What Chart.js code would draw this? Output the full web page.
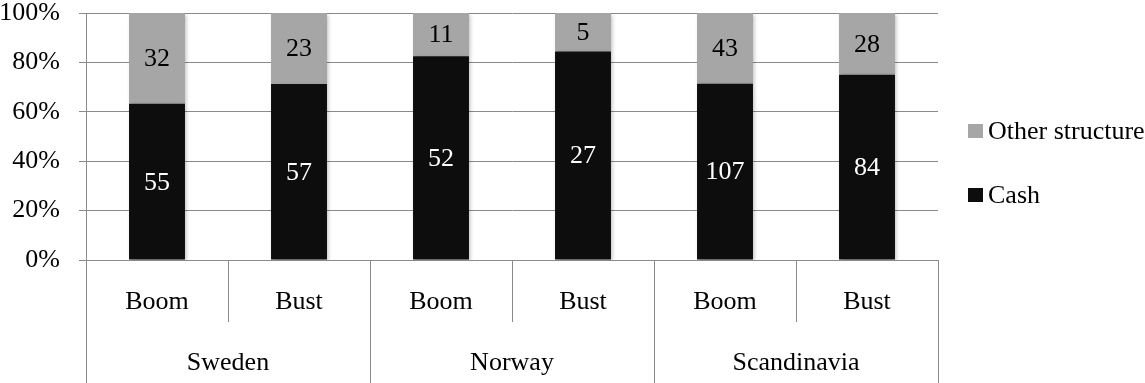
<!DOCTYPE html>
<html>
<head>
<meta charset="utf-8">
<script src="https://cdn.jsdelivr.net/npm/chart.js@4/dist/chart.umd.min.js"></script>
<style>
  html, body { margin: 0; padding: 0; background: #ffffff; }
  #wrap { width: 1145px; height: 383px; }
</style>
</head>
<body>
<div id="wrap"><canvas id="c" width="1145" height="383"></canvas></div>
<script>
// Deal counts per market phase
const phases = ['Boom', 'Bust', 'Boom', 'Bust', 'Boom', 'Bust'];
const regions = ['Sweden', 'Norway', 'Scandinavia'];
const cashCounts = [55, 57, 52, 27, 107, 84];
const otherCounts = [32, 23, 11, 5, 43, 28];
const yTicks = [0, 20, 40, 60, 80, 100];

const FONT = '"Liberation Serif", "Times New Roman", serif';
const FSIZE = 26;
const GRID = '#8a8a8a';
const CASH = '#0d0d0d';
const OTHER = '#a6a6a6';

// each bar shows shares of its column total (100% stacked)
const totals = cashCounts.map((c, i) => c + otherCounts[i]);
const cashShare = cashCounts.map((c, i) => c / totals[i] * 100);
const otherShare = otherCounts.map((o, i) => o / totals[i] * 100);

const barShadow = {
  id: 'barShadow',
  beforeDatasetsDraw(chart) {
    const ctx = chart.ctx;
    ctx.save();
    ctx.shadowColor = 'rgba(0,0,0,0.28)';
    ctx.shadowBlur = 4;
    ctx.shadowOffsetX = 1.5;
    ctx.shadowOffsetY = 1.5;
  },
  afterDatasetsDraw(chart) {
    chart.ctx.restore();
  }
};

const countLabels = {
  id: 'countLabels',
  afterDatasetsDraw(chart) {
    const ctx = chart.ctx;
    ctx.save();
    ctx.font = FSIZE + 'px ' + FONT;
    ctx.textAlign = 'center';
    ctx.textBaseline = 'middle';
    chart.data.datasets.forEach((ds, di) => {
      const meta = chart.getDatasetMeta(di);
      meta.data.forEach((bar, i) => {
        const counts = di === 0 ? cashCounts : otherCounts;
        ctx.fillStyle = di === 0 ? '#ffffff' : '#000000';
        ctx.fillText(String(counts[i]), bar.x, (bar.y + bar.base) / 2 + 1);
      });
    });
    ctx.restore();
  }
};

const sideLegend = {
  id: 'sideLegend',
  afterDraw(chart) {
    const ctx = chart.ctx;
    const area = chart.chartArea;
    const x = area.right + 30;
    const items = chart.data.datasets.slice().reverse();
    ctx.save();
    ctx.font = FSIZE + 'px ' + FONT;
    ctx.textAlign = 'left';
    ctx.textBaseline = 'middle';
    items.forEach((ds, k) => {
      const cy = area.top + 118 + k * 64;
      ctx.fillStyle = ds.backgroundColor;
      ctx.fillRect(x, cy - 7, 15, 14);
      ctx.fillStyle = '#000000';
      ctx.fillText(ds.label, x + 20, cy + 1);
    });
    ctx.restore();
  }
};

function noEdgePadding(scale) {
  scale.paddingTop = 0;
  scale.paddingBottom = 0;
  scale.paddingLeft = 0;
  scale.paddingRight = 0;
}

new Chart(document.getElementById('c'), {
  type: 'bar',
  data: {
    labels: phases,
    datasets: [
      { label: 'Cash', data: cashShare, backgroundColor: CASH,
        barPercentage: 0.394, categoryPercentage: 1.0 },
      { label: 'Other structure', data: otherShare, backgroundColor: OTHER,
        barPercentage: 0.394, categoryPercentage: 1.0 }
    ]
  },
  options: {
    responsive: false,
    animation: false,
    devicePixelRatio: 1,
    layout: { padding: { top: 13, right: 207, left: 0, bottom: 0 } },
    plugins: {
      legend: { display: false },
      tooltip: { enabled: false }
    },
    scales: {
      x: {
        stacked: true,
        offset: true,
        weight: 0,
        grid: { offset: true, drawOnChartArea: false, drawTicks: true,
                tickLength: 62, color: GRID, lineWidth: 1 },
        border: { display: true, color: GRID },
        ticks: { color: '#000', font: { family: FONT, size: FSIZE },
                 padding: -35, maxRotation: 0, autoSkip: false },
        afterFit(scale) { scale.height = 62; noEdgePadding(scale); }
      },
      x2: {
        type: 'category',
        labels: regions,
        position: 'bottom',
        offset: true,
        weight: 1,
        grid: { offset: true, drawOnChartArea: false, drawTicks: true,
                tickLength: 61, color: GRID, lineWidth: 1 },
        border: { display: false },
        ticks: { color: '#000', font: { family: FONT, size: FSIZE },
                 padding: -35, maxRotation: 0, autoSkip: false },
        afterFit(scale) { scale.height = 61; noEdgePadding(scale); }
      },
      y: {
        stacked: true,
        min: 0,
        max: 100,
        afterBuildTicks(scale) { scale.ticks = yTicks.map(v => ({ value: v })); },
        grid: { color: GRID, lineWidth: 1, tickLength: 7 },
        border: { display: true, color: GRID },
        ticks: { color: '#000', font: { family: FONT, size: FSIZE }, padding: 19,
                 callback: v => v + '%' },
        afterFit(scale) { scale.width = 86; noEdgePadding(scale); }
      }
    }
  },
  plugins: [barShadow, countLabels, sideLegend]
});
</script>
</body>
</html>
